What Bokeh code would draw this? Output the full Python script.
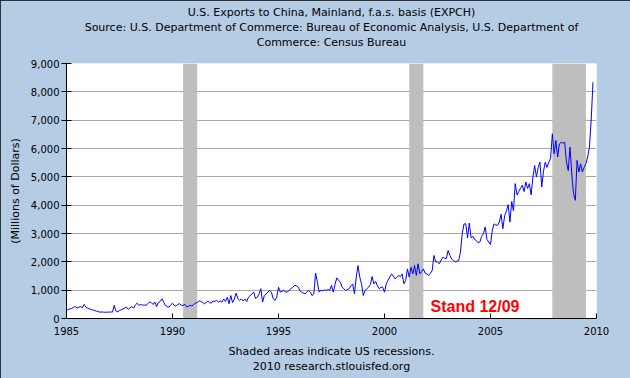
from bokeh.plotting import figure
from bokeh.models import (Range1d, FixedTicker, NumeralTickFormatter, Label, Title,
                          ColumnDataSource)
from bokeh.embed import file_html
from bokeh.resources import INLINE

# ---- data (monthly, Jan 1985 .. Nov 2009), millions of dollars ----
start_year = 1985
v1985 = [280, 320, 340, 360, 390, 420, 370, 400, 420, 380, 495, 400]
v1986 = [370, 340, 320, 300, 280, 260, 240, 225, 230, 225, 220, 225]
v1987 = [225, 230, 225, 460, 260, 240, 280, 310, 340, 370, 400, 320]
v1988 = [380, 420, 370, 480, 540, 460, 500, 470, 480, 460, 520, 580]
v1989 = [560, 495, 580, 420, 560, 600, 695, 580, 460, 420, 400, 480]
v1990 = [540, 460, 430, 500, 520, 470, 460, 500, 410, 430, 470, 440]
v1991 = [500, 540, 560, 630, 600, 570, 520, 560, 610, 560, 540, 620]
v1992 = [600, 640, 580, 620, 575, 690, 600, 750, 520, 810, 560, 690]
v1993 = [895, 700, 640, 690, 620, 690, 600, 750, 810, 870, 930, 700]
v1994 = [750, 870, 1050, 580, 810, 870, 930, 990, 930, 700, 640, 750]
v1995 = [1105, 930, 960, 990, 940, 930, 1000, 1050, 1100, 1165, 1165, 1120]
v1996 = [1000, 930, 900, 870, 920, 990, 930, 810, 870, 1600, 1280, 930]
v1997 = [1000, 980, 1010, 990, 1020, 1000, 1165, 930, 1200, 1435, 1350, 1280]
v1998 = [1105, 1050, 990, 1020, 1050, 1150, 1220, 870, 1460, 1870, 1460, 1220]
v1999 = [810, 990, 1050, 1105, 1200, 1480, 1220, 1310, 1150, 1050, 1105, 1105]
v2000 = [930, 1225, 1350, 1460, 1575, 1500, 1400, 1450, 1520, 1480, 1575, 1225]
v2001 = [1340, 1750, 1460, 1810, 1575, 1870, 1520, 1930, 1575, 1650, 1750, 1600]
v2002 = [1575, 1520, 1600, 1690, 2225, 2000, 2000, 1930, 2050, 2160, 2130, 2110]
v2003 = [2400, 2225, 2100, 2050, 2000, 2020, 2050, 2340, 2990, 3340, 3340, 2850]
v2004 = [3370, 2850, 2900, 2790, 2750, 2670, 2700, 2900, 3000, 3230, 2790, 2700]
v2005 = [2610, 3110, 3340, 3300, 3290, 3400, 3680, 3170, 3620, 3800, 4020, 3400]
v2006 = [4130, 3800, 4760, 4360, 4480, 4600, 4700, 4480, 4820, 4590, 4760, 4360]
v2007 = [4990, 5400, 4990, 5330, 5520, 4640, 5200, 5520, 5330, 5520, 5640, 6520]
v2008 = [5810, 6280, 5700, 6160, 6220, 6190, 6220, 5520, 5220, 6050, 5100, 4400]
v2009 = [4170, 5580, 5170, 5460, 5170, 5330, 5460, 5700, 6050, 7000, 8340]

series = [v1985, v1986, v1987, v1988, v1989, v1990, v1991, v1992, v1993, v1994,
          v1995, v1996, v1997, v1998, v1999, v2000, v2001, v2002, v2003, v2004,
          v2005, v2006, v2007, v2008, v2009]

# recessions (decimal years)
rec_start = [1990.5, 2001.167, 2007.917]
rec_end = [1991.167, 2001.833, 2009.5]

x_ticks = [1985, 1990, 1995, 2000, 2005, 2010]
y_ticks = [0, 1000, 2000, 3000, 4000, 5000, 6000, 7000, 8000, 9000]

title_lines = ["U.S. Exports to China, Mainland, f.a.s. basis (EXPCH)",
               "Source: U.S. Department of Commerce: Bureau of Economic Analysis, U.S. Department of",
               "Commerce: Census Bureau"]
footer_lines = ["Shaded areas indicate US recessions.", "2010 research.stlouisfed.org"]
note_text = "Stand 12/09"
note_x, note_y = 2002.17, 424

# ---- build x/y ----
xs, ys = [], []
for i, yr in enumerate(series):
    for m, v in enumerate(yr):
        xs.append(start_year + i + m / 12.0)
        ys.append(v)

BG = "#B4CCE4"
FONT = "DejaVu Sans"
W, H = 630, 378
BL, BR, BT, BB = 66, 34, 63, 60

p = figure(width=W, height=H, output_backend="svg", toolbar_location=None,
           x_range=Range1d(x_ticks[0], x_ticks[-1]),
           y_range=Range1d(y_ticks[0], y_ticks[-1]),
           min_border_left=BL, min_border_right=BR,
           min_border_top=BT, min_border_bottom=BB)

p.border_fill_color = BG
p.background_fill_color = "white"
p.outline_line_color = None
p.styles = {"outline": "1px solid #000000", "outline-offset": "-1px"}
p.title.visible = False


def spacer(standoff):
    # invisible (background-coloured) spacer title used only for vertical spacing
    return Title(text=".", text_font_size="4px", standoff=standoff,
                 text_color=BG, align="left")


def text_title(line):
    return Title(text=line, align="center", text_font=FONT, text_font_size="11px",
                 text_font_style="normal", text_color="black", standoff=0, offset=0)


# above: first added sits nearest to the frame
p.add_layout(spacer(10), "above")
for line in reversed(title_lines):
    p.add_layout(text_title(line), "above")

# below: x axis first, then spacer, footer lines
p.add_layout(spacer(0), "below")
for line in footer_lines:
    p.add_layout(text_title(line), "below")

# grid
p.xgrid.grid_line_color = None
p.ygrid.grid_line_color = "#A8A8A8"
p.ygrid.grid_line_width = 1
p.ygrid.ticker = FixedTicker(ticks=y_ticks)

# recessions
p.quad(left=rec_start, right=rec_end, bottom=y_ticks[0], top=y_ticks[-1],
       fill_color="#BEBEBE", line_color=None)

# series
src = ColumnDataSource(dict(x=xs, y=ys))
p.line("x", "y", source=src, line_color="#0000FF", line_width=1)

# axes
p.xaxis.ticker = FixedTicker(ticks=x_ticks)
p.xaxis.minor_tick_line_color = None
p.xaxis.major_tick_in = 5
p.xaxis.major_tick_out = 0
p.xaxis.major_label_standoff = 8
p.xaxis.major_label_text_font = FONT
p.xaxis.major_label_text_font_size = "10px"
p.xaxis.major_label_text_color = "black"
p.xaxis.axis_line_color = "black"
p.xaxis.major_tick_line_color = "black"

p.yaxis.ticker = FixedTicker(ticks=y_ticks)
p.yaxis.formatter = NumeralTickFormatter(format="0,0")
p.yaxis.minor_tick_line_color = None
p.yaxis.major_tick_in = 5
p.yaxis.major_tick_out = 5
p.yaxis.major_label_standoff = 2
p.yaxis.major_label_text_font = FONT
p.yaxis.major_label_text_font_size = "10px"
p.yaxis.major_label_text_color = "black"
p.yaxis.axis_label = "(Millions of Dollars)"
p.yaxis.axis_label_text_font = FONT
p.yaxis.axis_label_text_font_size = "11px"
p.yaxis.axis_label_text_font_style = "normal"
p.yaxis.axis_label_text_color = "black"
p.yaxis.axis_label_standoff = 6
p.yaxis.axis_line_color = "black"
p.yaxis.major_tick_line_color = "black"

p.add_layout(Label(x=note_x, y=note_y, text=note_text, text_color="#FF0000",
                   text_font="Liberation Sans", text_font_style="bold",
                   text_font_size="16px", text_baseline="alphabetic"))

open("out.html", "w").write(file_html(p, INLINE))
